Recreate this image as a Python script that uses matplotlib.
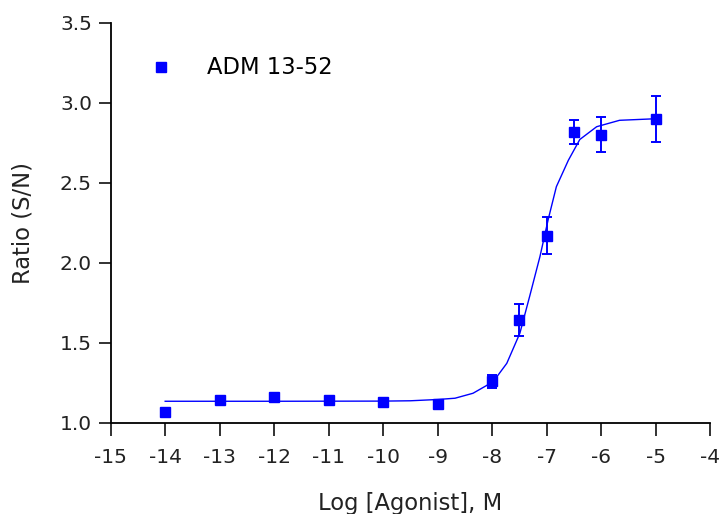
import matplotlib.pyplot as plt
from matplotlib.lines import Line2D

plt.rcParams['font.family'] = ['DejaVu Sans']
plt.rcParams['axes.unicode_minus'] = False

# measured points (mean +/- error)
log_conc = [-14, -13, -12, -11, -10, -9, -8, -7.5, -7, -6.5, -6, -5]
ratio = [1.07, 1.14, 1.16, 1.14, 1.13, 1.12, 1.26, 1.64, 2.17, 2.82, 2.80, 2.90]
ratio_err = [0.0, 0.02, 0.01, 0.01, 0.01, 0.01, 0.04, 0.10, 0.115, 0.075, 0.11, 0.145]

# fitted curve
fit_x = [-14, -12, -10, -9.5, -9.0, -8.68, -8.35, -7.98, -7.73, -7.49, -7.31, -7.12,
         -6.97, -6.82, -6.60, -6.39, -6.08, -5.66, -4.98]
fit_y = [1.134, 1.134, 1.135, 1.137, 1.145, 1.153, 1.184, 1.256, 1.371, 1.559, 1.79, 2.04,
         2.27, 2.475, 2.64, 2.77, 2.85, 2.89, 2.90]

xticks = list(range(-15, -3))
yticks = [1.0, 1.5, 2.0, 2.5, 3.0, 3.5]

blue = '#0000ff'
W, H = 722, 514

fig = plt.figure(figsize=(W / 100, H / 100), dpi=100)
ax = fig.add_axes([110.7 / W, (H - 422.7) / H, 599.3 / W, 400 / H])

ax.plot(fit_x, fit_y, '-', color=blue, lw=1.0)
ax.errorbar(log_conc, ratio, yerr=ratio_err, fmt='s', color=blue, ms=7,
            elinewidth=1.4, capsize=3.5, capthick=1.4)

ax.set_xlim(-15, -4)
ax.set_ylim(1.0, 3.5)
ax.set_xticks(xticks)
ax.set_yticks(yticks)
ax.set_xticklabels([str(t) for t in xticks])
ax.set_yticklabels(['%.1f' % t for t in yticks])

for s in ['top', 'right']:
    ax.spines[s].set_visible(False)
for s in ['left', 'bottom']:
    ax.spines[s].set_linewidth(1.3)
ax.tick_params(axis='both', direction='out', length=9, width=1.3, labelsize=14.5, colors='#222222')
ax.tick_params(axis='x', pad=9)
ax.tick_params(axis='y', pad=4.5)

ax.set_xlabel('Log [Agonist], M', fontsize=16.3, labelpad=18, color='#222222')
ax.set_ylabel('Ratio (S/N)', fontsize=16.3, labelpad=18, color='#222222')

handle = Line2D([], [], marker='s', ls='none', color=blue, ms=6.5)
ax.legend([handle], ['ADM 13-52'], loc='center left',
          bbox_to_anchor=(149.7 / W, (H - 68) / H), bbox_transform=fig.transFigure,
          frameon=False, fontsize=16.3, handlelength=1.0, handletextpad=1.53,
          borderpad=0, borderaxespad=0)

plt.savefig('out.png', dpi=100)
